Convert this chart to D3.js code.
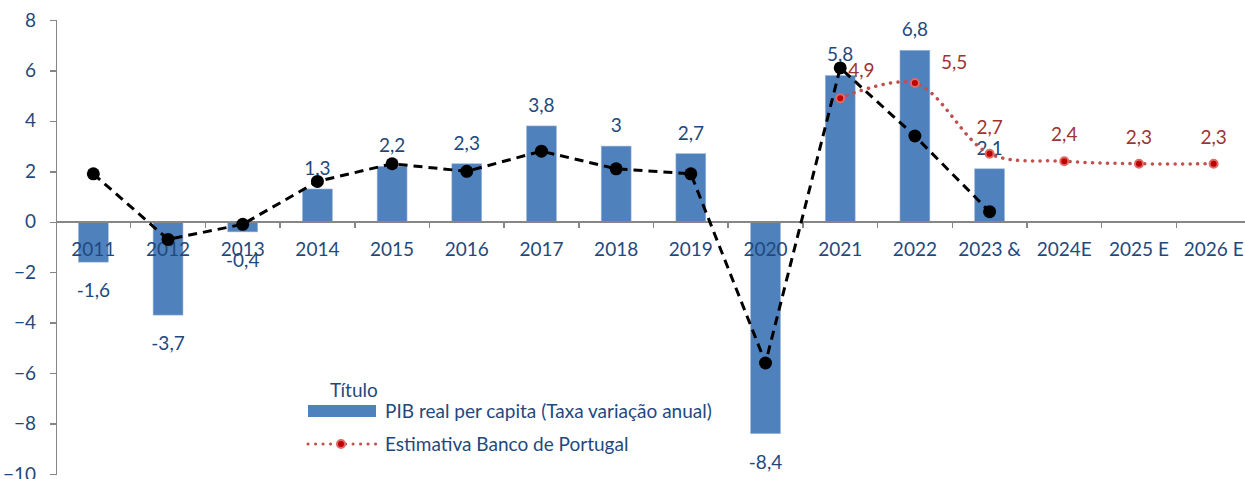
<!DOCTYPE html>
<meta charset="utf-8">
<style>
  html, body { margin: 0; padding: 0; background: #fff; overflow: hidden; }
  text { font-family: Lato, "Open Sans", sans-serif; fill: #1f497d; }
  .axis path, .axis line { stroke: #868686; stroke-width: 1.5px; shape-rendering: crispEdges; }
  .bar { fill: #4f81bd; stroke: #9bb7dd; stroke-width: 0.6px; }
  .pib { fill: none; stroke: #000; stroke-width: 3px; stroke-dasharray: 9,6; }
  .est { fill: none; stroke: #c0504d; stroke-width: 3.5px; stroke-dasharray: 0.1,7.4; stroke-linecap: round; }
  .lbl { font-size: 19px; text-anchor: middle; }
  .lbl-red { font-size: 19px; fill: #9b3532; }
</style>
<body>
<svg width="1245" height="479"></svg>
<script src="https://cdn.jsdelivr.net/npm/d3@7"></script>
<script>
  // categorias e séries
  var years = ["2011","2012","2013","2014","2015","2016","2017","2018","2019","2020","2021","2022","2023 &","2024E","2025 E","2026 E"];
  var barValues = [-1.6, -3.7, -0.4, 1.3, 2.2, 2.3, 3.8, 3, 2.7, -8.4, 5.8, 6.8, 2.1, null, null, null];
  var blackValues = [1.9, -0.7, -0.1, 1.6, 2.3, 2.0, 2.8, 2.1, 1.9, -5.6, 6.1, 3.4, 0.4, null, null, null];
  var estValues = [null, null, null, null, null, null, null, null, null, null, 4.9, 5.5, 2.7, 2.4, 2.3, 2.3];
  var yTicks = [-10, -8, -6, -4, -2, 0, 2, 4, 6, 8];
  var legendTitle = "Título";
  var legendBars = "PIB real per capita (Taxa variação anual)";
  var legendEst = "Estimativa Banco de Portugal";

  var svg = d3.select("svg");
  var fmt = function(v) { return String(v).replace(".", ","); };

  var x = d3.scaleBand().domain(years).range([56, 1251]).paddingInner(0.6).paddingOuter(0.3);
  var step = x.step();
  var cx = function(c) { return x(c) + x.bandwidth() / 2; };
  var y = d3.scaleLinear().domain([-10, 8]).range([474, 20]);

  // eixo y
  svg.append("g")
    .attr("class", "axis")
    .attr("transform", "translate(56,0)")
    .call(d3.axisLeft(y).tickValues(yTicks).tickSize(6).tickPadding(14).tickFormat(d3.format("d")))
    .call(function(g) {
      g.selectAll("text").style("font-size", "19px").attr("fill", "#1f497d");
    });

  // barras
  var barData = years.map(function(c, i) { return {c: c, v: barValues[i]}; }).filter(function(d) { return d.v != null; });
  svg.append("g").selectAll("rect")
    .data(barData).enter().append("rect")
    .attr("class", "bar")
    .attr("x", function(d) { return x(d.c); })
    .attr("width", x.bandwidth())
    .attr("y", function(d) { return y(Math.max(0, d.v)); })
    .attr("height", function(d) { return Math.abs(y(d.v) - y(0)); });

  // eixo x (linha no zero)
  var xa = svg.append("g").attr("class", "axis");
  xa.append("line").attr("x1", 56).attr("x2", 1245).attr("y1", y(0)).attr("y2", y(0));
  xa.selectAll("line.tk")
    .data(d3.range(1, years.length)).enter().append("line")
    .attr("class", "tk")
    .attr("x1", function(i) { return 56 + i * step; })
    .attr("x2", function(i) { return 56 + i * step; })
    .attr("y1", y(0)).attr("y2", y(0) + 6);
  svg.append("g").selectAll("text")
    .data(years).enter().append("text")
    .attr("class", "lbl")
    .attr("x", function(c) { return cx(c); })
    .attr("y", y(0) + 34)
    .text(function(c) { return c; });

  // rótulos das barras
  svg.append("g").selectAll("text")
    .data(barData).enter().append("text")
    .attr("class", "lbl")
    .attr("x", function(d) { return cx(d.c); })
    .attr("y", function(d) { return d.v >= 0 ? y(d.v) - 14 : y(d.v) + 35; })
    .text(function(d) { return fmt(d.v); });

  // estimativa Banco de Portugal (linha suavizada)
  var estData = years.map(function(c, i) { return {c: c, v: estValues[i]}; }).filter(function(d) { return d.v != null; });
  var estLine = d3.line().x(function(d) { return cx(d.c); }).y(function(d) { return y(d.v); }).curve(d3.curveCatmullRom.alpha(0.5));
  svg.append("path").datum(estData).attr("class", "est").attr("d", estLine);

  // linha preta tracejada
  var blackData = years.map(function(c, i) { return {c: c, v: blackValues[i]}; }).filter(function(d) { return d.v != null; });
  var blackLine = d3.line().x(function(d) { return cx(d.c); }).y(function(d) { return y(d.v); });
  svg.append("path").datum(blackData).attr("class", "pib").attr("d", blackLine);
  svg.append("g").selectAll("circle")
    .data(blackData).enter().append("circle")
    .attr("cx", function(d) { return cx(d.c); })
    .attr("cy", function(d) { return y(d.v); })
    .attr("r", 6.5).attr("fill", "#000");

  svg.append("g").selectAll("circle")
    .data(estData).enter().append("circle")
    .attr("cx", function(d) { return cx(d.c); })
    .attr("cy", function(d) { return y(d.v); })
    .attr("r", 4).attr("fill", "#c00000").attr("stroke", "#e06a66").attr("stroke-width", 2);

  // rótulos da estimativa: 2021 e 2022 ficam à direita para não tapar as barras
  var labelShift = {"2021": [8, -21], "2022": [26, -14]};
  svg.append("g").selectAll("text")
    .data(estData).enter().append("text")
    .attr("class", "lbl-red")
    .attr("text-anchor", function(d) { return labelShift[d.c] ? "start" : "middle"; })
    .attr("x", function(d) { return cx(d.c) + (labelShift[d.c] ? labelShift[d.c][0] : 0); })
    .attr("y", function(d) { return y(d.v) + (labelShift[d.c] ? labelShift[d.c][1] : -20); })
    .text(function(d) { return fmt(d.v); });

  // legenda
  var lg = svg.append("g");
  lg.append("text").attr("x", 330).attr("y", 397).style("font-size", "19px").text(legendTitle);
  lg.append("rect").attr("x", 308).attr("y", 405).attr("width", 68).attr("height", 12).attr("fill", "#4f81bd");
  lg.append("text").attr("x", 385).attr("y", 418).style("font-size", "19px").text(legendBars);
  lg.append("line").attr("class", "est").attr("x1", 308).attr("x2", 377).attr("y1", 444).attr("y2", 444).style("stroke-width", "3px");
  lg.append("circle").attr("cx", 341).attr("cy", 444).attr("r", 4).attr("fill", "#c00000").attr("stroke", "#e06a66").attr("stroke-width", 2);
  lg.append("text").attr("x", 385).attr("y", 451).style("font-size", "19px").text(legendEst);
</script>
</body>
